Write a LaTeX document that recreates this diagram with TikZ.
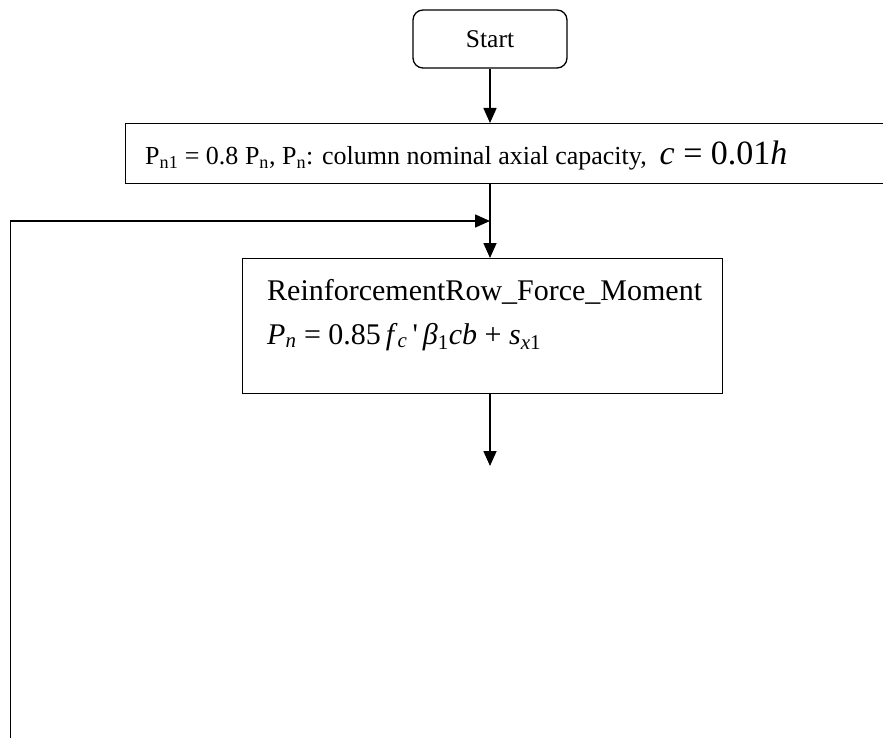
\documentclass[tikz,border=0pt]{standalone}
\usepackage{fontspec}
\setmainfont{Liberation Serif}
\newfontfamily\plainserif{Liberation Serif}
\usetikzlibrary{arrows.meta}
\newcommand{\sq}{{\plainserif\upshape '}}
\begin{document}
\begin{tikzpicture}[x=1pt,y=-1pt,
  conn/.style={line width=1.6pt},
  arr/.style={conn,-{Triangle[length=15pt,width=13pt]}},
  boxr/.style={draw,line width=1.3pt,rectangle,inner sep=0pt},
  lbl/.style={inner sep=0pt,anchor=base west}]
\useasboundingbox (0,0) rectangle (883,738);
% Start
\node[boxr,rounded corners=10pt,minimum width=154pt,minimum height=58pt,font=\fontsize{25.5}{28}\selectfont] (start) at (490,39) {Start};
% box 2 (runs past the right edge)
\node[boxr,minimum width=800pt,minimum height=60pt,anchor=north west] (box2) at (125,123) {};
\node[lbl,font=\fontsize{26}{30}\selectfont] (t2) at (145,165) {P\textsubscript{n1} = 0.8 P\textsubscript{n}, P\textsubscript{n}: column nominal axial capacity,~ {\fontsize{34}{38}\selectfont\textit{c} = 0.01\textit{h}}};
% box 3
\node[boxr,minimum width=480pt,minimum height=135pt,anchor=north west] (box3) at (242,258) {};
\node[lbl,font=\fontsize{30}{34}\selectfont] (t3a) at (267,300) {ReinforcementRow\_Force\_Moment};
\node[lbl,font=\fontsize{30}{34}\selectfont] (t3b) at (267,344) {\textit{P}\textsubscript{\textit{n}} = 0.85\,\textit{f}\textsubscript{\textit{c}}\,\sq\,\textit{β}\textsubscript{1}\textit{cb} + \textit{s}\textsubscript{\textit{x}1}};
% connectors
\coordinate (fbstart) at (10.5,738);
\coordinate (fbjoin) at (490,221);
\coordinate (endc) at (490,466);
\draw[arr] (start.south) -- (box2.north -| start.south);
\draw[arr] (box2.south -| start.south) -- (box3.north -| start.south);
\draw[arr] (fbstart) |- (fbjoin);
\draw[arr] (box3.south -| start.south) -- (endc);
\end{tikzpicture}
\end{document}
